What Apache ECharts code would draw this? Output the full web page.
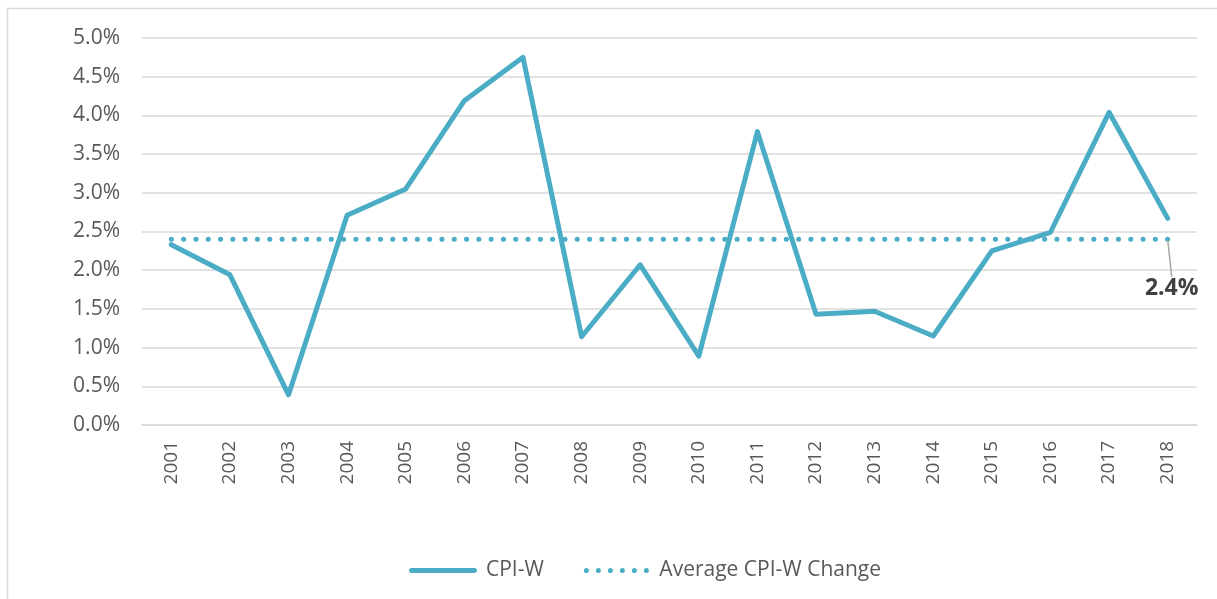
<!DOCTYPE html>
<html><head><meta charset="utf-8">
<script src="https://cdn.jsdelivr.net/npm/echarts@6/dist/echarts.min.js"></script>
<style>html,body{margin:0;padding:0;background:#fff}#c{width:1217px;height:599px}</style>
</head><body><div id="c"></div>
<script>
const years = ['2001','2002','2003','2004','2005','2006','2007','2008','2009','2010','2011','2012','2013','2014','2015','2016','2017','2018'];
const cpiW = [2.33,1.94,0.39,2.71,3.05,4.19,4.75,1.14,2.07,0.89,3.79,1.43,1.47,1.15,2.25,2.49,4.04,2.67];
const avgValue = 2.4;
const avgSeries = years.map(() => avgValue);
const yTicks = {min: 0, max: 5, interval: 0.5};

const FONT = 'Open Sans';
const TXT = '#595959';
const TEAL = '#4BACC6';

const dotsIcon = 'path://' + [0, 1, 2, 3, 4, 5].map(i => {
  const x = i * 12;
  return 'M' + x + ',2.5a2.5,2.5 0 1,0 5,0a2.5,2.5 0 1,0 -5,0';
}).join('');
const barIcon = 'path://M2.5,0H67.5A2.5,2.5 0 0,1 67.5,5H2.5A2.5,2.5 0 0,1 2.5,0Z';

const chart = echarts.init(document.getElementById('c'), null, {renderer: 'canvas'});
chart.setOption({
  animation: false,
  textStyle: {fontFamily: FONT},
  graphic: [{
    type: 'rect', silent: true, z: -1,
    shape: {x: 7.5, y: 8.5, width: 1400, height: 800},
    style: {fill: 'none', stroke: '#d9d9d9', lineWidth: 1.5}
  }],
  grid: {left: 142, right: 20, top: 38, bottom: 174},
  legend: {
    top: 555, left: 404,
    itemWidth: 68, itemHeight: 5, itemGap: 40,
    textStyle: {fontFamily: FONT, fontSize: 21, color: TXT, padding: [0, 0, 0, 4]},
    data: [{name: 'CPI-W', icon: barIcon}, {name: 'Average CPI-W Change', icon: dotsIcon}]
  },
  xAxis: {
    type: 'category', data: years, boundaryGap: true,
    axisLine: {lineStyle: {color: '#d9d9d9', width: 1.5}},
    axisTick: {show: false},
    axisLabel: {rotate: 90, fontSize: 19, color: TXT, margin: 16, fontFamily: FONT}
  },
  yAxis: {
    type: 'value', min: yTicks.min, max: yTicks.max, interval: yTicks.interval,
    axisLine: {show: false}, axisTick: {show: false},
    splitLine: {lineStyle: {color: '#d9d9d9', width: 1.5}},
    axisLabel: {fontSize: 21, color: TXT, margin: 22, fontFamily: FONT,
      formatter: v => v.toFixed(1) + '%'}
  },
  series: [{
    name: 'CPI-W', type: 'line', data: cpiW, symbol: 'none',
    lineStyle: {color: TEAL, width: 5, cap: 'round', join: 'round'},
    itemStyle: {color: TEAL}, z: 3
  }, {
    name: 'Average CPI-W Change', type: 'line',
    data: avgSeries.map((v, i) => i === avgSeries.length - 1 ? {
      value: v,
      symbol: 'circle', symbolSize: 1,
      label: {show: true, position: 'bottom', distance: 5,
        formatter: p => p.value.toFixed(1) + '%',
        fontSize: 23, fontWeight: 'bold', color: '#404040', fontFamily: FONT},
      labelLine: {show: true, lineStyle: {color: '#a6a6a6', width: 1.5}}
    } : {value: v, symbol: 'none'}),
    showSymbol: true,
    lineStyle: {color: TEAL, width: 5, type: [0.1, 12.2], cap: 'round'},
    itemStyle: {color: TEAL},
    labelLayout: {dx: 4, dy: 32},
    labelLine: {show: true, lineStyle: {color: '#a6a6a6', width: 1.5}},
    z: 2
  }]
});
</script></body></html>
